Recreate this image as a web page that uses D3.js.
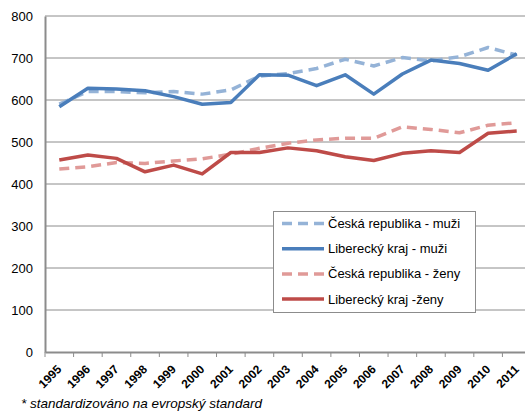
<!DOCTYPE html>
<html><head><meta charset="utf-8">
<script src="https://cdn.jsdelivr.net/npm/d3@7/dist/d3.min.js"></script>
<style>body{margin:0;background:#fff}svg{display:block;font-family:"Liberation Sans",Arial,sans-serif}</style>
</head><body><svg id="c" width="525" height="412"></svg>
<script>
const years = ["1995","1996","1997","1998","1999","2000","2001","2002","2003","2004","2005","2006","2007","2008","2009","2010","2011"];
const crMuzi = [590,620,620,617,620,614,624,657,663,675,697,681,701,693,703,725,707];
const lkMuzi = [584,628,626,622,608,590,594,660,659,634,660,614,662,695,687,671,710];
const crZeny = [436,441,451,449,455,460,471,485,497,505,509,509,536,530,522,540,546];
const lkZeny = [457,469,461,429,445,424,475,475,486,479,465,456,473,479,475,521,526];
const yTicks = [0,100,200,300,400,500,600,700,800];
const seriesNames = ["Česká republika - muži","Liberecký kraj - muži","Česká republika - ženy","Liberecký kraj -ženy"];
const footnote = "* standardizováno na evropský standard";

const series = [
  {name: seriesNames[0], values: crMuzi, color: "#95b3d7", dash: "10,6"},
  {name: seriesNames[1], values: lkMuzi, color: "#4a7ebb", dash: null},
  {name: seriesNames[2], values: crZeny, color: "#e09a98", dash: "10,6"},
  {name: seriesNames[3], values: lkZeny, color: "#be4b48", dash: null}
];

const svg = d3.select("#c");
const mLeft = 45, mTop = 16, mBottom = 352, mRight = 531;
const x = d3.scaleBand().domain(years).range([mLeft, mRight]);
const y = d3.scaleLinear().domain([0, 800]).range([mBottom, mTop]);

// gridlines
svg.append("g").selectAll("line").data(yTicks.filter(d => d > 0)).join("line")
  .attr("x1", mLeft).attr("x2", mRight).attr("y1", d => y(d)).attr("y2", d => y(d))
  .attr("stroke", "#8c8c8c").attr("stroke-width", 1);

// y axis
const yAxis = svg.append("g").attr("transform", `translate(${mLeft},0)`)
  .call(d3.axisLeft(y).tickValues(yTicks).tickSize(0).tickPadding(12));
yAxis.select(".domain").attr("stroke", "#8c8c8c").attr("stroke-width", 2);
yAxis.selectAll("text").attr("font-size", 13).attr("fill", "#000")
  .attr("font-family", "Liberation Sans, Arial, sans-serif");

// x axis
const xAxis = svg.append("g").attr("transform", `translate(0,${mBottom})`)
  .call(d3.axisBottom(x).tickSize(0));
xAxis.select(".domain").attr("stroke", "#8c8c8c").attr("stroke-width", 2);
xAxis.selectAll(".tick line").remove();
xAxis.selectAll(".tick text")
  .attr("font-size", 12).attr("font-weight", "bold").attr("fill", "#000")
  .attr("font-family", "Liberation Sans, Arial, sans-serif")
  .attr("text-anchor", "end")
  .attr("dy", 0)
  .attr("x", 0).attr("y", 0)
  .attr("transform", "translate(3,18) rotate(-45)");
// boundary tick marks
svg.append("g").selectAll("line").data(years).join("line")
  .attr("x1", d => x(d)).attr("x2", d => x(d))
  .attr("y1", mBottom).attr("y2", mBottom + 5)
  .attr("stroke", "#8c8c8c").attr("stroke-width", 1);

// lines
const line = d3.line().x((d, i) => x(years[i]) + x.bandwidth() / 2).y(d => y(d));
series.forEach(s => {
  svg.append("path").datum(s.values)
    .attr("d", line).attr("fill", "none")
    .attr("stroke", s.color).attr("stroke-width", 3.5)
    .attr("stroke-linejoin", "round")
    .attr("stroke-dasharray", s.dash);
});

// legend
const lg = svg.append("g");
lg.append("rect").attr("x", 273.5).attr("y", 211.5).attr("width", 202).attr("height", 101)
  .attr("fill", "#fff").attr("stroke", "#8c8c8c").attr("stroke-width", 1);
series.forEach((s, i) => {
  const yy = 223.5 + i * 25.2;
  lg.append("line").attr("x1", 282).attr("x2", 324).attr("y1", yy).attr("y2", yy)
    .attr("stroke", s.color).attr("stroke-width", 3.5).attr("stroke-dasharray", s.dash);
  lg.append("text").attr("x", 328).attr("y", yy).attr("dy", "0.35em")
    .attr("font-size", 13).attr("fill", "#000").text(s.name);
});

// footnote
svg.append("text").attr("x", 21).attr("y", 408)
  .attr("font-size", 13.5).attr("font-style", "italic").attr("fill", "#000")
  .text(footnote);
</script></body></html>
